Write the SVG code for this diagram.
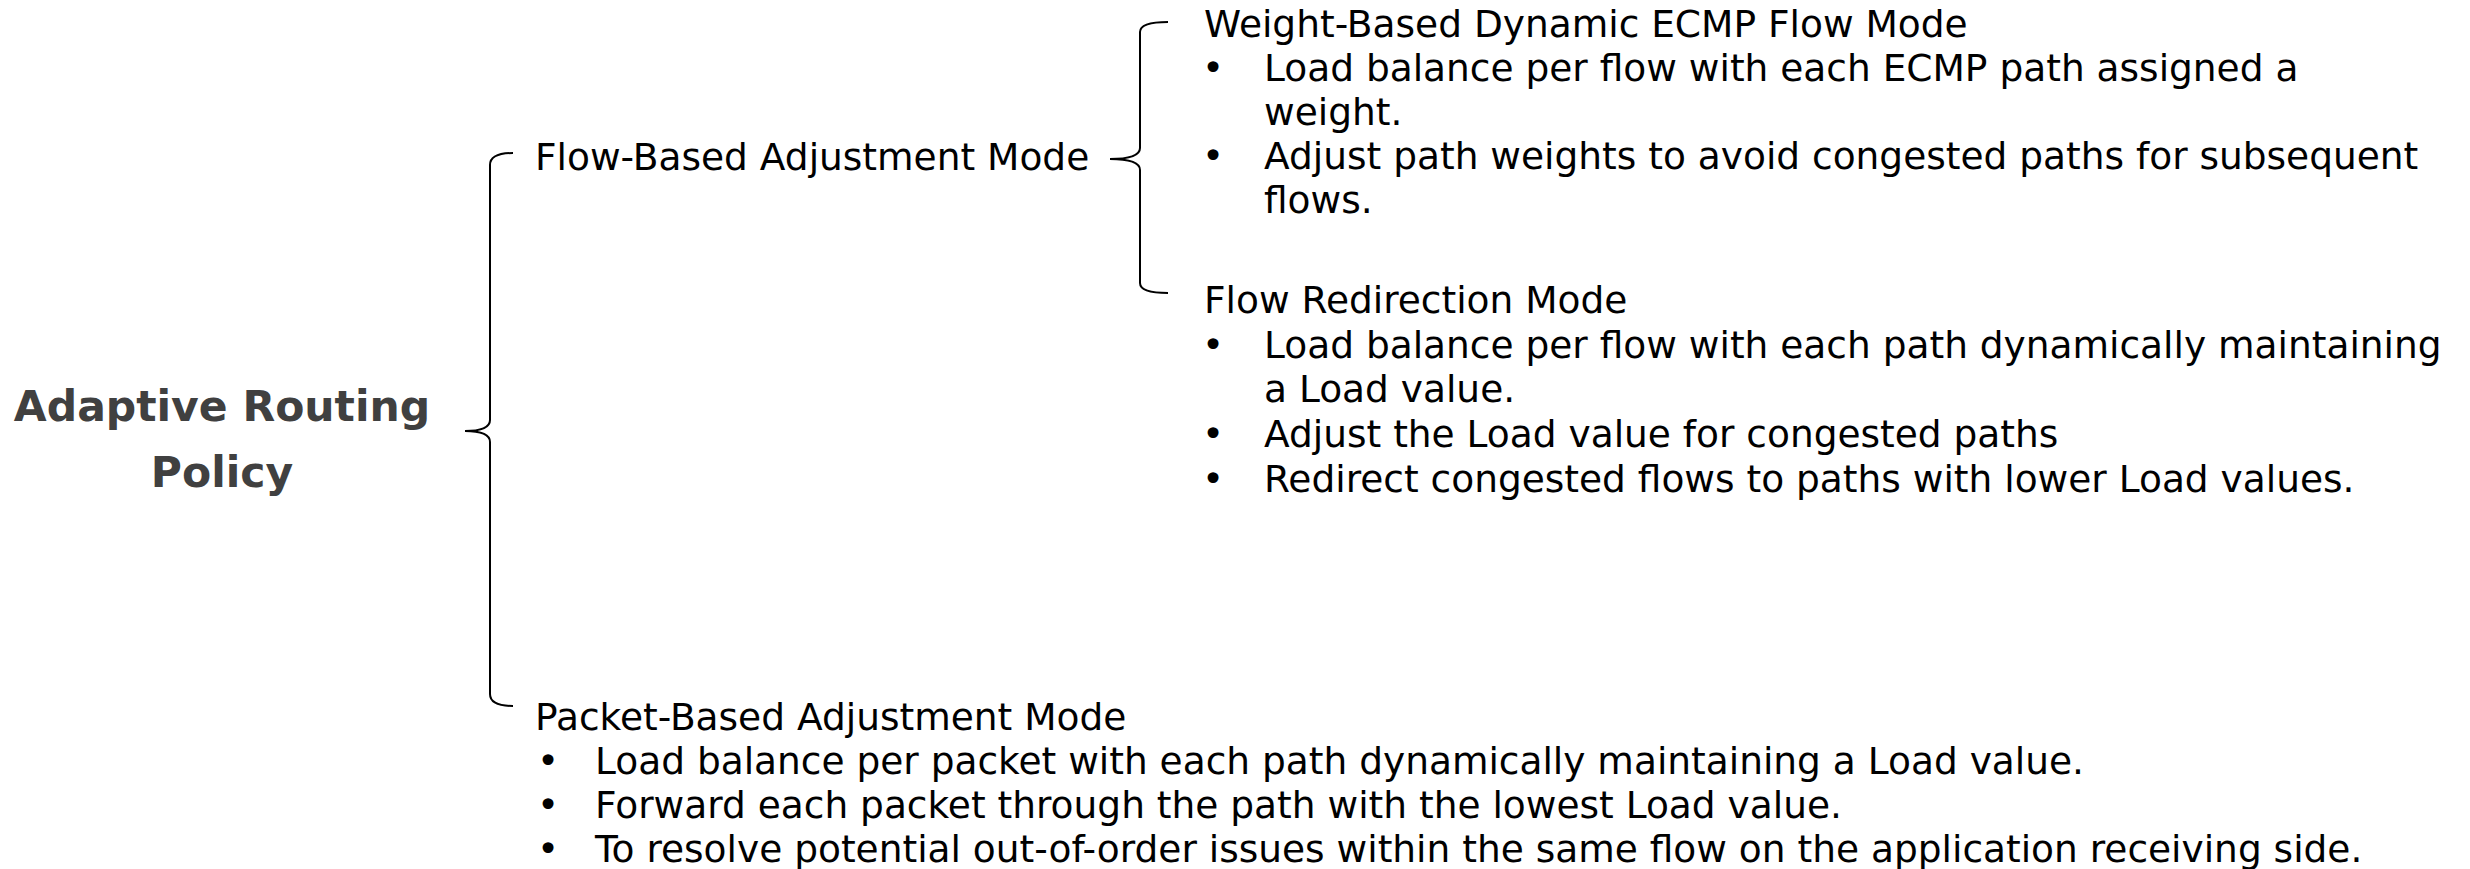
<svg xmlns="http://www.w3.org/2000/svg" width="2470" height="869" viewBox="0 0 2470 869">
<style>
.t{font-family:"DejaVu Sans","Liberation Sans",sans-serif;font-size:37.5px;fill:#000}
.title{font-family:"DejaVu Sans","Liberation Sans",sans-serif;font-size:42.5px;font-weight:bold;fill:#404040;text-anchor:middle}
.br{fill:none;stroke:#000;stroke-width:2}
</style>
<rect width="2470" height="869" fill="#fff"/>
<g id="root">
<text class="title" x="222" y="421">Adaptive Routing</text>
<text class="title" x="222" y="487">Policy</text>
</g>
<g id="connectors">
<path class="br" d="M513,153 Q490,153 490,165 L490,420 Q490,431 465,431 Q490,431 490,442 L490,694 Q490,706 513,706"/>
<path class="br" d="M1168,22 Q1140,22 1140,32 L1140,148 Q1140,159 1110,159 Q1140,159 1140,170 L1140,283 Q1140,293 1168,293"/>
</g>
<g id="flow-based">
<text class="t" x="535" y="170">Flow-Based Adjustment Mode</text>
</g>
<g id="weight-based">
<text class="t" x="1204" y="37">Weight-Based Dynamic ECMP Flow Mode</text>
<text class="t" x="1202" y="81">•</text>
<text class="t" x="1264" y="81">Load balance per flow with each ECMP path assigned a</text>
<text class="t" x="1264" y="125">weight.</text>
<text class="t" x="1202" y="169">•</text>
<text class="t" x="1264" y="169">Adjust path weights to avoid congested paths for subsequent</text>
<text class="t" x="1264" y="213">flows.</text>
</g>
<g id="flow-redirection">
<text class="t" x="1204" y="313">Flow Redirection Mode</text>
<text class="t" x="1202" y="358">•</text>
<text class="t" x="1264" y="358">Load balance per flow with each path dynamically maintaining</text>
<text class="t" x="1264" y="402">a Load value.</text>
<text class="t" x="1202" y="447">•</text>
<text class="t" x="1264" y="447">Adjust the Load value for congested paths</text>
<text class="t" x="1202" y="492">•</text>
<text class="t" x="1264" y="492">Redirect congested flows to paths with lower Load values.</text>
</g>
<g id="packet-based">
<text class="t" x="535" y="730">Packet-Based Adjustment Mode</text>
<text class="t" x="537" y="774">•</text>
<text class="t" x="595" y="774">Load balance per packet with each path dynamically maintaining a Load value.</text>
<text class="t" x="537" y="818">•</text>
<text class="t" x="595" y="818">Forward each packet through the path with the lowest Load value.</text>
<text class="t" x="537" y="862">•</text>
<text class="t" x="595" y="862">To resolve potential out-of-order issues within the same flow on the application receiving side.</text>
</g>
</svg>
